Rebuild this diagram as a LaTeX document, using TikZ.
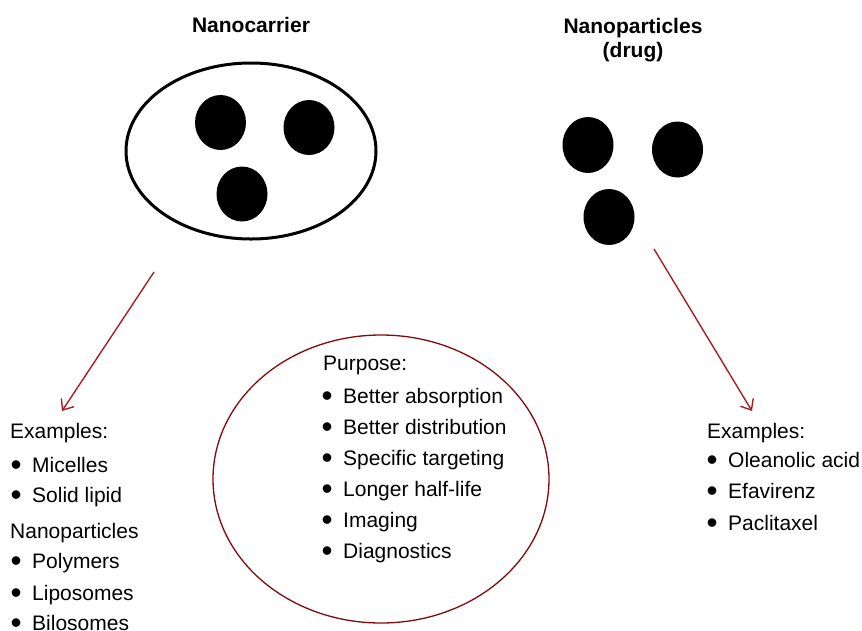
\documentclass[tikz,border=0pt]{standalone}
\usepackage{fontspec}
\setmainfont{Liberation Sans}
\usepackage{tikz}
\usetikzlibrary{arrows.meta,positioning}

\definecolor{arrowred}{RGB}{168,30,36}
\definecolor{ringred}{RGB}{128,10,14}
\newcommand{\bul}{\makebox[8pt][c]{\smash{\raisebox{-3.6pt}{\scalebox{1.5}{\textbullet}}}}\hspace{12pt}}

\tikzset{
  txt/.style={anchor=base west, inner sep=0, font=\fontsize{21}{25}\selectfont},
  ttl/.style={anchor=base, inner sep=0, font=\fontsize{21}{25}\selectfont\bfseries},
  blob/.style={fill=black},
  link/.style={draw=arrowred, line width=1.4pt, -{Straight Barb[length=9pt,width=15pt,line width=1.4pt]}}
}

\begin{document}
\begin{tikzpicture}[x=1pt,y=-1pt]
            \useasboundingbox (0,0) rectangle (862,630);

            % titles
            \node[ttl] (carrier) at (251,32) {Nanocarrier};
            \node[ttl] (drug) at (633,33) {Nanoparticles};
            \node[ttl] (drug2) at (633,57) {(drug)};

            % nanocarrier with loaded particles
            \draw[line width=3pt] (251,151) ellipse (125 and 88);
            \fill[blob] (220.5,122.5) ellipse (25.5 and 27.5);
            \fill[blob] (309,127.5) ellipse (25.5 and 27.5);
            \fill[blob] (242,194) ellipse (25.5 and 27.5);

            % free drug particles
            \fill[blob] (588,145) ellipse (25.5 and 28);
            \fill[blob] (677.5,149.5) ellipse (25.5 and 28);
            \fill[blob] (609,217) ellipse (25.5 and 28);

            % purpose ring
            \draw[ringred, line width=1.3pt] (381,479) ellipse (168 and 144);

            % left list
            \node[txt] (lexam) at (10,438) {Examples:};
            \node[txt] (mic) at (12,472) {\bul Micelles};
            \node[txt] (sol) at (12,502) {\bul Solid lipid};
            \node[txt] (nano) at (10,538) {Nanoparticles};
            \node[txt] (poly) at (12,568) {\bul Polymers};
            \node[txt] (lipo) at (12,600) {\bul Liposomes};
            \node[txt] (bilo) at (12,630) {\bul Bilosomes};

            % purpose list
            \node[txt] (purp) at (323,370) {Purpose:};
            \node[txt] (abs) at (323,403) {\bul Better absorption};
            \node[txt] (dist) at (323,434) {\bul Better distribution};
            \node[txt] (targ) at (323,465) {\bul Specific targeting};
            \node[txt] (half) at (323,496) {\bul Longer half-life};
            \node[txt] (imag) at (323,527) {\bul Imaging};
            \node[txt] (diag) at (323,558) {\bul Diagnostics};

            % right list
            \node[txt] (rexam) at (707,438) {Examples:};
            \node[txt] (olea) at (708,467) {\bul Oleanolic acid};
            \node[txt] (efav) at (708,498) {\bul Efavirenz};
            \node[txt] (pacl) at (708,530) {\bul Paclitaxel};

            % arrows
            \coordinate (ltail) at (154,272);
            \coordinate (ltip) at (62,411);
            \coordinate (rtail) at (654,249);
            \coordinate (rtip) at (752,411);
            \draw[link] (ltail) -- (ltip);
            \draw[link] (rtail) -- (rtip);
        \end{tikzpicture}
\end{document}
